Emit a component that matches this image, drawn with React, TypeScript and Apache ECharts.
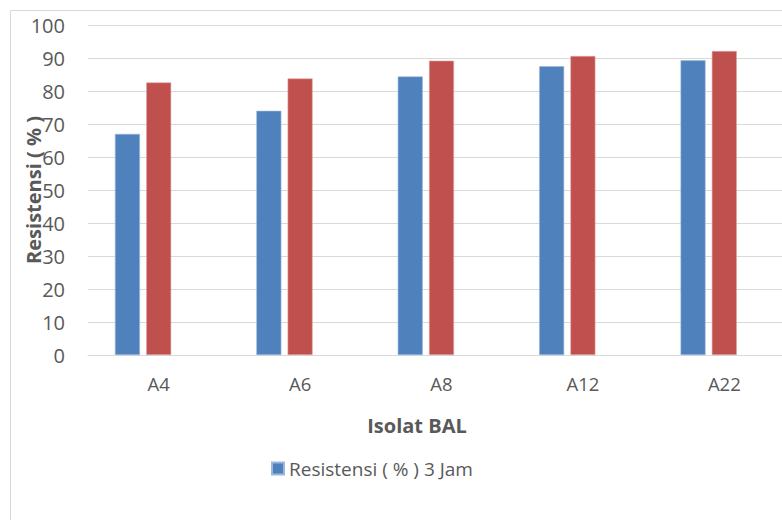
import React, { useEffect, useRef } from "react";
import * as echarts from "echarts";

const categories = ["A4", "A6", "A8", "A12", "A22"];
const series3Jam = [67.0, 74.0, 84.4, 87.5, 89.3];
const series6Jam = [82.6, 83.8, 89.2, 90.6, 92.1];
const series3 = [null, null, null, null, null];
const seriesNames = ["Resistensi ( % ) 3 Jam", "Resistensi ( % ) 6 Jam", "Resistensi ( % ) 24 Jam"];
const yTitle = "Resistensi ( % )";
const xTitle = "Isolat BAL";

const FONT = "'Open Sans', 'Liberation Sans', sans-serif";
const TXT = "#595959";

export default function App() {
  const ref = useRef<HTMLDivElement>(null);
  useEffect(() => {
    if (!ref.current) return;
    const chart = echarts.init(ref.current, undefined, { renderer: "svg" });
    chart.setOption({
      animation: false,
      backgroundColor: "#ffffff",
      textStyle: { fontFamily: FONT },
      grid: {
        left: 88,
        top: 25,
        height: 330,
        width: 707,
        containLabel: false,
        outerBoundsMode: "none",
      },
      legend: {
        data: [seriesNames[0]],
        left: 271,
        top: 459,
        padding: 0,
        icon: "rect",
        itemWidth: 12,
        itemHeight: 12,
        itemGap: 10,
        textStyle: { fontSize: 19, color: TXT, fontFamily: FONT },
      },
      xAxis: {
        type: "category",
        data: categories,
        axisLine: { show: true, lineStyle: { color: "#d9d9d9", width: 1 } },
        axisTick: { show: false },
        axisLabel: { fontSize: 18.5, color: TXT, margin: 19, fontFamily: FONT },
      },
      yAxis: {
        type: "value",
        min: 0,
        max: 100,
        interval: 10,
        axisLine: { show: false },
        axisTick: { show: false },
        axisLabel: { fontSize: 20, color: TXT, margin: 23, fontFamily: FONT },
        splitLine: { lineStyle: { color: "#d9d9d9", width: 1 } },
      },
      series: [
        {
          name: seriesNames[0],
          type: "bar",
          data: series3Jam,
          barWidth: 25,
          barGap: "25%",
          itemStyle: { color: "#4f81bd", borderColor: "#9bb7dc", borderWidth: 0.6 },
        },
        {
          name: seriesNames[1],
          type: "bar",
          data: series6Jam,
          barWidth: 25,
          barGap: "25%",
          itemStyle: { color: "#c0504d", borderColor: "#e0a6a4", borderWidth: 0.6 },
        },
        {
          name: seriesNames[2],
          type: "bar",
          data: series3,
          barWidth: 25,
          barGap: "25%",
          itemStyle: { color: "#9bbb59" },
        },
      ],
      graphic: [
        { type: "line", shape: { x1: 10.5, y1: 10.5, x2: 782, y2: 10.5 }, style: { stroke: "#d9d9d9", lineWidth: 1 } },
        { type: "line", shape: { x1: 10.5, y1: 10.5, x2: 10.5, y2: 520 }, style: { stroke: "#d9d9d9", lineWidth: 1 } },
        {
          type: "text",
          x: 33,
          y: 190,
          rotation: Math.PI / 2,
          style: {
            text: yTitle,
            fontSize: 20,
            fontWeight: "bold",
            fill: TXT,
            fontFamily: FONT,
            align: "center",
            verticalAlign: "middle",
          },
        },
        {
          type: "text",
          x: 417,
          y: 425,
          style: {
            text: xTitle,
            fontSize: 20,
            fontWeight: "bold",
            fill: TXT,
            fontFamily: FONT,
            align: "center",
            verticalAlign: "middle",
          },
        },
      ],
    });
    return () => chart.dispose();
  }, []);
  return (
    <div
      ref={ref}
      style={{ position: "absolute", left: 0, top: 0, width: 782, height: 520 }}
    />
  );
}
